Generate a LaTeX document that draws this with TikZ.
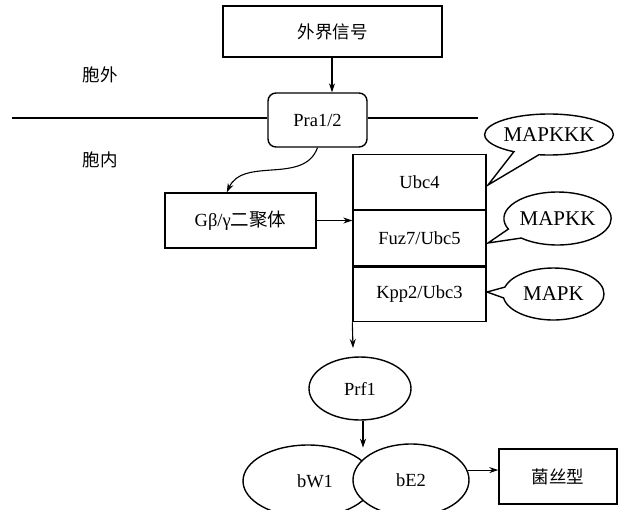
\documentclass[tikz,border=0pt]{standalone}
\usepackage{fontspec}
\setmainfont{Liberation Serif}
\newfontfamily\cjk{Noto Sans CJK SC}
\usetikzlibrary{arrows.meta,positioning,calc,shapes.geometric,shapes.callouts}

\tikzset{
	arr/.style={-{Stealth[length=9pt,width=6pt]}, line width=1.1pt},
	box/.style={draw, line width=1.4pt, rectangle, inner sep=0pt},
	oval/.style={draw, line width=1.4pt, ellipse, inner sep=0pt, fill=white},
	bubble/.style={draw, line width=1.4pt, ellipse callout, inner sep=0pt, callout pointer arc=24, font=\fontsize{21}{21}\selectfont},
	cn/.style={font=\fontsize{17.5}{17.5}\cjk}
}

\begin{document}
\begin{tikzpicture}[x=1pt, y=-1pt, font=\fontsize{18.5}{18.5}\selectfont]

	%Frame
	\useasboundingbox (0,0) rectangle (623,509);
	\clip (0,0) rectangle (623,509);

	%Signal and receptor
	\node[box, minimum width=219pt, minimum height=51pt, cn] (sig) at (332.5,31.5) {外界信号};
	\node[box, rounded corners=8pt, minimum width=99pt, minimum height=54pt] (pra) at (317.5,120) {Pra1/2};
	\draw[arr] (sig.south -| 332,0) -- (pra.north -| 332,0);

	%Membrane
	\coordinate (memL) at (12,118);
	\coordinate (memR) at (478,118);
	\draw[line width=1.4pt] (memL) -- (memL -| pra.west);
	\draw[line width=1.4pt] (memR -| pra.east) -- (memR);
	\node[cn] (outside) at (100,75) {胞外};
	\node[cn] (inside) at (100,160) {胞内};

	%G protein
	\node[box, minimum width=151pt, minimum height=55pt] (gbg) at (240.5,220.5) {Gβ/γ{\cjk 二聚体}};
	\draw[arr] (pra.south) to[out=250, in=65] ($(gbg.north west)!0.41!(gbg.north east)$);

	%MAP kinase cascade
	\node[box, minimum width=133pt, minimum height=54.7pt] (ubc) at (419.5,182) {Ubc4};
	\node[box, minimum width=133pt, minimum height=54.7pt, below=0pt of ubc] (fuz) {Fuz7/Ubc5};
	\node[box, minimum width=133pt, minimum height=54.7pt, below=0pt of fuz] (kpp) {Kpp2/Ubc3};
	\draw[arr] (gbg.east) -- (gbg.east -| fuz.west);

	\node[bubble, minimum width=118pt, minimum height=41pt, callout absolute pointer={(488,185)}] (mkkk) at (549,134.5) {MAPKKK};
	\node[bubble, minimum width=101pt, minimum height=53pt, callout absolute pointer={(488,243)}] (mkk) at (557.5,218.5) {MAPKK};
	\node[bubble, minimum width=101pt, minimum height=52pt, callout absolute pointer={(487,292)}] (mk) at (553.5,294) {MAPK};

	%Downstream
	\coordinate (tip) at (353,348);
	\draw[arr] (kpp.south west) -- (tip);
	\node[oval, minimum width=102pt, minimum height=63pt] (prf) at (360,388.5) {Prf1};

	\node[oval, minimum width=130pt, minimum height=72pt] (bw) at (308,481) {\hspace*{14pt}bW1};
	\node[oval, minimum width=116pt, minimum height=72pt] (be) at (411,480) {bE2};
	\draw[arr] (prf.south -| 363,0) -- ++(0,27);

	\node[box, minimum width=118pt, minimum height=55pt, cn] (hypha) at (558,476.5) {菌丝型};
	\draw[arr] (be.10) -- (be.10 -| hypha.west);

\end{tikzpicture}
\end{document}
